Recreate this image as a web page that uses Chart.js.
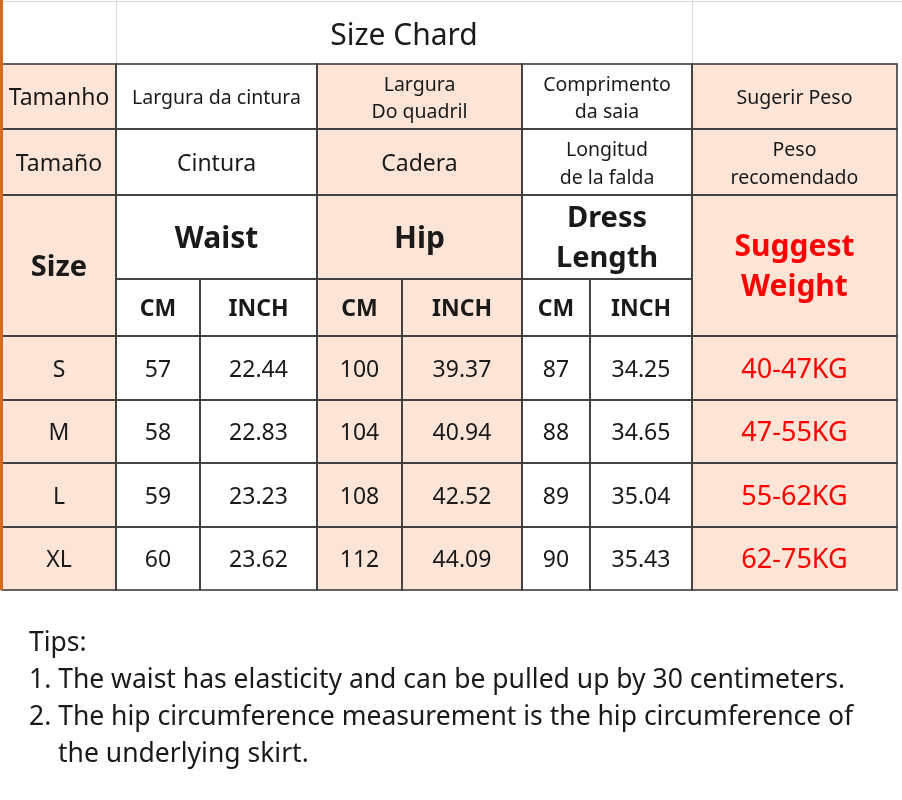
<!DOCTYPE html>
<html>
<head>
<meta charset="utf-8">
<script src="https://cdn.jsdelivr.net/npm/chart.js@4/dist/chart.umd.min.js"></script>
<style>
  body { margin: 0; background: #ffffff; }
  #wrap { width: 902px; height: 800px; position: relative; }
</style>
</head>
<body>
<div id="wrap"><canvas id="sizeChart"></canvas></div>
<script>
// table data
const title = 'Size Chard';
const sizes = ['S', 'M', 'L', 'XL'];
const waistCm = [57, 58, 59, 60];
const waistInch = [22.44, 22.83, 23.23, 23.62];
const hipCm = [100, 104, 108, 112];
const hipInch = [39.37, 40.94, 42.52, 44.09];
const lengthCm = [87, 88, 89, 90];
const lengthInch = [34.25, 34.65, 35.04, 35.43];
const weights = ['40-47KG', '47-55KG', '55-62KG', '62-75KG'];

const headPt = ['Tamanho', 'Largura da cintura', 'Largura\nDo quadril', 'Comprimento\nda saia', 'Sugerir Peso'];
const headEs = ['Tamaño', 'Cintura', 'Cadera', 'Longitud\nde la falda', 'Peso\nrecomendado'];
const headEn = ['Size', 'Waist', 'Hip', 'Dress\nLength', 'Suggest\nWeight'];
const units = ['CM', 'INCH'];

const tips = [
  'Tips:',
  '1. The waist has elasticity and can be pulled up by 30 centimeters.',
  '2. The hip circumference measurement is the hip circumference of',
  'the underlying skirt.'
];

// layout (scale units)
const COLS = [2, 116, 200, 317, 402, 522, 590, 692, 897];
const ROWS = [0, 64, 129, 195, 279, 336, 400, 463, 527, 590];
const GROUPS = [[0, 1], [1, 3], [3, 5], [5, 7], [7, 8]];
const PEACH = '#fce4d6';
const FONT = '"Noto Sans", "Open Sans", sans-serif';

// build the cell list
const cells = [];
function cell(c0, c1, r0, r1, text, size, opts) {
  cells.push(Object.assign({ c0, c1, r0, r1, text: String(text), size, bold: false, color: '#1a1a1a', lh: size * 1.2 }, opts || {}));
}
const fillFor = c => (c === 0 || c === 3 || c === 4 || c === 7) ? PEACH : '#ffffff';

const ptSizes = [23, 19.5, 19.5, 19.5, 19.5];
const esSizes = [23, 23, 23, 19.5, 19.5];
GROUPS.forEach(([a, b], g) => {
  cell(a, b, 1, 2, headPt[g], ptSizes[g], { lh: 27 });
  cell(a, b, 2, 3, headEs[g], esSizes[g], { lh: 28 });
});
cell(0, 1, 3, 5, headEn[0], 29, { bold: true });
cell(1, 3, 3, 4, headEn[1], 30, { bold: true });
cell(3, 5, 3, 4, headEn[2], 30, { bold: true });
cell(5, 7, 3, 4, headEn[3], 29, { bold: true, lh: 40 });
cell(7, 8, 3, 5, headEn[4], 30, { bold: true, color: '#ff0000', lh: 40 });
for (let c = 1; c <= 6; c++) cell(c, c + 1, 4, 5, units[(c - 1) % 2], 23, { bold: true });

sizes.forEach((s, i) => {
  const r = 5 + i;
  const row = [s, waistCm[i], waistInch[i].toFixed(2), hipCm[i], hipInch[i].toFixed(2), lengthCm[i], lengthInch[i].toFixed(2)];
  row.forEach((v, c) => cell(c, c + 1, r, r + 1, v, 23));
  cell(7, 8, r, r + 1, weights[i], 27, { color: '#ff0000' });
});

const tablePlugin = {
  id: 'sizeTable',
  afterDraw(chart) {
    const { ctx, scales: { x, y } } = chart;
    const px = v => x.getPixelForValue(v);
    const py = v => y.getPixelForValue(v);
    ctx.save();

    // spreadsheet gridlines in the title row
    ctx.strokeStyle = '#d9d9d9';
    ctx.lineWidth = 1;
    ctx.beginPath();
    ctx.moveTo(px(0), py(1.5)); ctx.lineTo(px(902), py(1.5));
    [COLS[1], COLS[7]].forEach(cx => { ctx.moveTo(px(cx) + 0.5, py(0)); ctx.lineTo(px(cx) + 0.5, py(ROWS[1])); });
    ctx.stroke();

    // fills
    cells.forEach(k => {
      ctx.fillStyle = fillFor(k.c0);
      ctx.fillRect(px(COLS[k.c0]), py(ROWS[k.r0]), px(COLS[k.c1]) - px(COLS[k.c0]), py(ROWS[k.r1]) - py(ROWS[k.r0]));
    });

    // borders
    ctx.strokeStyle = '#3c3c3c';
    ctx.lineWidth = 1.6;
    cells.forEach(k => {
      ctx.strokeRect(px(COLS[k.c0]), py(ROWS[k.r0]), px(COLS[k.c1]) - px(COLS[k.c0]), py(ROWS[k.r1]) - py(ROWS[k.r0]));
    });

    // orange edge on the left
    ctx.fillStyle = '#d6691f';
    ctx.fillRect(px(0), py(0), px(3) - px(0), py(ROWS[9]) - py(0));

    // texts
    ctx.textAlign = 'center';
    ctx.textBaseline = 'middle';
    const texts = cells.concat([{ c0: 1, c1: 7, r0: 0, r1: 1, text: title, size: 30, bold: false, color: '#1a1a1a', lh: 36, dy: 2 }]);
    texts.forEach(k => {
      const lines = k.text.split('\n');
      const cx = (px(COLS[k.c0]) + px(COLS[k.c1])) / 2;
      const cy = (py(ROWS[k.r0]) + py(ROWS[k.r1])) / 2 + 2 + (k.dy || 0);
      ctx.font = (k.bold ? 'bold ' : '') + k.size + 'px ' + FONT;
      ctx.fillStyle = k.color;
      lines.forEach((ln, j) => {
        ctx.fillText(ln, cx, cy + (j - (lines.length - 1) / 2) * k.lh);
      });
    });

    // tips under the table
    ctx.textAlign = 'left';
    ctx.fillStyle = '#1a1a1a';
    ctx.font = '26.5px ' + FONT;
    tips.forEach((t, i) => {
      const tx = i === 3 ? 58 : 29;
      ctx.fillText(t, px(tx), py(643 + i * 37));
    });
    ctx.restore();
  }
};

new Chart(document.getElementById('sizeChart'), {
  type: 'scatter',
  data: { datasets: [] },
  options: {
    responsive: true,
    maintainAspectRatio: false,
    animation: false,
    layout: { padding: 0 },
    plugins: { legend: { display: false }, tooltip: { enabled: false } },
    scales: {
      x: { type: 'linear', display: false, min: 0, max: 902 },
      y: { type: 'linear', display: false, min: 0, max: 800, reverse: true }
    }
  },
  plugins: [tablePlugin]
});
</script>
</body>
</html>
